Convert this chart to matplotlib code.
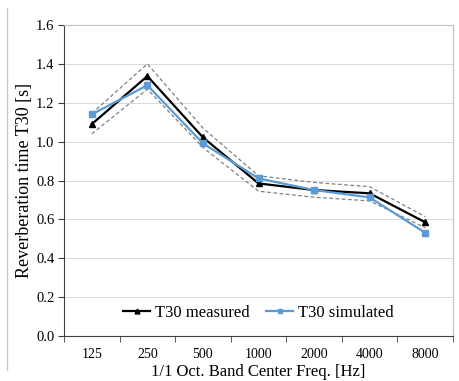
import matplotlib
matplotlib.use("Agg")
import matplotlib.pyplot as plt
from matplotlib.lines import Line2D

freqs = ["125", "250", "500", "1000", "2000", "4000", "8000"]
measured = [1.09, 1.337, 1.022, 0.785, 0.751, 0.734, 0.585]
simulated = [1.14, 1.29, 0.991, 0.811, 0.751, 0.713, 0.531]
upper = [1.145, 1.40, 1.07, 0.824, 0.79, 0.768, 0.614]
lower = [1.04, 1.27, 0.97, 0.745, 0.714, 0.695, 0.557]

plt.rcParams['font.family'] = ['Liberation Serif', 'DejaVu Serif']

fig = plt.figure(figsize=(4.59, 3.81), dpi=100)
ax = fig.add_axes([64/459, 1-336/381, (453-64)/459, (336-25)/381])

x = list(range(len(freqs)))
ax.plot(x, upper, color='#808080', lw=0.9, ls=(0, (3, 2)), zorder=2)
ax.plot(x, lower, color='#808080', lw=0.9, ls=(0, (3, 2)), zorder=2)
ax.plot(x, measured, color='black', lw=1.6, marker='^', ms=5, label='T30 measured', zorder=3)
ax.plot(x, simulated, color='#5B9BD5', lw=1.6, marker='s', ms=4.5, label='T30 simulated', zorder=4)

ax.set_xlim(-0.5, len(freqs) - 0.5)
ax.set_ylim(0, 1.6)
ax.set_yticks([0.0, 0.2, 0.4, 0.6, 0.8, 1.0, 1.2, 1.4, 1.6])
ax.set_yticklabels([f"{v:.1f}" for v in ax.get_yticks()])
ax.set_xticks(x)
ax.set_xticklabels(freqs)
ax.set_xticks([i - 0.5 for i in range(len(freqs) + 1)], minor=True)
ax.tick_params(axis='x', which='major', length=0, pad=9, labelsize=10)
ax.tick_params(axis='x', which='minor', length=4, direction='out', color='#404040')
ax.tick_params(axis='y', length=4, direction='out', labelsize=10.5, color='#404040', pad=3)
ax.grid(axis='y', color='#d9d9d9', lw=0.7)
ax.set_axisbelow(True)
for s in ['top', 'right']:
    ax.spines[s].set_color('#bfbfbf')
for s in ['left', 'bottom']:
    ax.spines[s].set_color('#404040')

ax.set_ylabel('Reverberation time T30 [s]', fontsize=13, labelpad=2)
ax.set_xlabel('1/1 Oct. Band Center Freq. [Hz]', fontsize=12, labelpad=2)

ax.legend(loc='lower center', bbox_to_anchor=(0.5, 0.0), ncol=2, frameon=False,
          fontsize=12, handlelength=1.6, columnspacing=1.0, handletextpad=0.3, markerscale=0.7)

fig.add_artist(Line2D([7/459, 7/459], [1-370/381, 1-8/381], color='#c8c8c8', lw=1))

fig.savefig('out.png', dpi=100)
